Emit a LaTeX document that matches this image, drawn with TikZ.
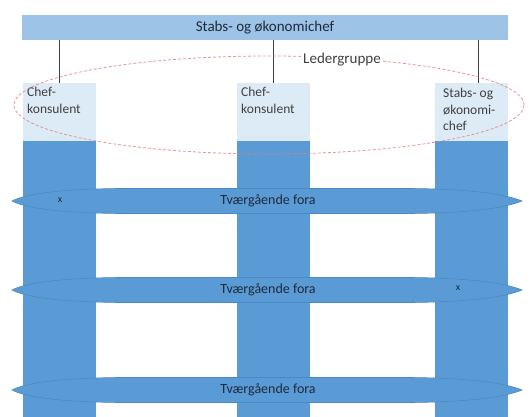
\documentclass[tikz,border=0pt]{standalone}
\usepackage{fontspec}
\setmainfont{Carlito}
\definecolor{colblue}{HTML}{5B9BD5}
\definecolor{bandedge}{HTML}{4A89C8}
\definecolor{barblue}{HTML}{9DC3E6}
\definecolor{lightbox}{HTML}{DDEBF7}
\definecolor{txtgray}{HTML}{404040}
\definecolor{txtnavy}{HTML}{1E2A3C}
\definecolor{ellred}{HTML}{E57C7C}
\begin{document}
\begin{tikzpicture}[x=1pt,y=-1pt,
  topbar/.style={fill=barblue,draw=none,minimum width=486pt,minimum height=25pt,inner sep=0pt,font=\fontsize{15}{18}\selectfont,text=txtnavy},
  chefbox/.style={fill=lightbox,draw=none,minimum width=73pt,minimum height=58pt,inner sep=0pt},
  column/.style={fill=colblue,draw=none,minimum width=73pt,minimum height=276pt,inner sep=0pt},
  boxtext/.style={align=left,inner sep=0pt,anchor=north west,font=\fontsize{13.5}{16.5}\selectfont,text=txtgray},
  bandtext/.style={inner sep=0pt,font=\fontsize{14}{16}\selectfont,text=txtnavy},
  xmark/.style={inner sep=0pt,font=\fontsize{10}{11}\selectfont,text=txtnavy},
  conn/.style={draw=txtgray,line width=1pt},
  bandfill/.style={fill=colblue,draw=bandedge,line width=0.6pt}
]
\useasboundingbox[fill=white] (0,0) rectangle (530,417);

% top bar
\node[topbar] (bar) at (265,27.5) {Stabs- og økonomichef};

% light boxes
\node[chefbox] (lbox) at (59.5,112) {};
\node[chefbox] (cbox) at (273.5,112) {};
\node[chefbox] (rbox) at (471.5,112) {};

% connectors
\coordinate (rtop) at ([xshift=6.5pt]rbox.north);
\draw[conn] (bar.south -| lbox.north) -- (lbox.north);
\draw[conn] (bar.south -| cbox.north) -- (cbox.north);
\draw[conn] (bar.south -| rtop) -- (rtop);

% box texts
\node[boxtext] (ltext) at (27,87) {Chef-\\konsulent};
\node[boxtext] (ctext) at (241,87) {Chef-\\konsulent};
\node[boxtext] (rtext) at (443,88) {Stabs- og\\økonomi-\\chef};

% columns
\node[column] (lcol) at (59.5,279) {};
\node[column] (ccol) at (273.5,279) {};
\node[column] (rcol) at (471.5,279) {};

% leader group ellipse
\draw[ellred,dash pattern=on 3pt off 2pt,line width=0.8pt,opacity=0.8] (269,105) ellipse [x radius=255pt, y radius=49pt];
\node[fill=white,inner sep=2pt,font=\fontsize{15}{18}\selectfont,text=txtgray] (leder) at (342,60) {Ledergruppe};

% bands
\foreach \cy/\nm in {201/bandA,290/bandB,390/bandC}{
  \path[bandfill] (12,\cy) .. controls (25,\cy-7) and (60,\cy-12) .. (120,\cy-12.5)
     -- (410,\cy-12.5) .. controls (470,\cy-12) and (505,\cy-7) .. (522,\cy)
     .. controls (505,\cy+7) and (470,\cy+12) .. (410,\cy+12.5)
     -- (120,\cy+12.5) .. controls (60,\cy+12) and (25,\cy+7) .. (12,\cy) -- cycle;
  \node[bandtext] (\nm) at (268,\cy) {Tværgående fora};
}
\node[xmark] (xA) at (60,200) {x};
\node[xmark] (xB) at (458,288) {x};
\end{tikzpicture}
\end{document}
